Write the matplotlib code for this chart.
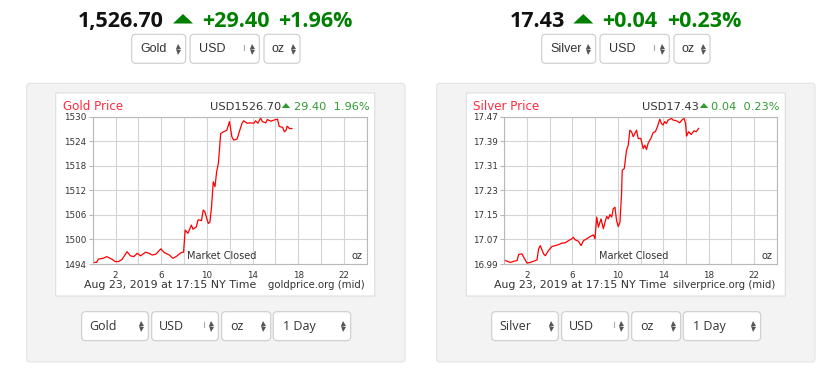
import numpy as np
import matplotlib
matplotlib.use("Agg")
import matplotlib.pyplot as plt
from matplotlib.patches import FancyBboxPatch, Polygon, Rectangle

# ---- data ----
gold_hours = [0.0, 0.34, 0.49, 0.93, 1.23, 1.67, 1.97, 2.27, 2.56, 3.01, 3.30, 3.60, 3.90,
              4.19, 4.64, 4.93, 5.23, 5.53, 5.97, 6.27, 6.71, 7.01, 7.30, 7.75, 7.96, 8.10,
              8.34, 8.64, 8.79, 9.08, 9.23, 9.53, 9.68, 9.82, 10.12, 10.27, 10.41, 10.56,
              10.71, 10.86, 11.01, 11.21, 11.45, 11.75, 11.98, 12.19, 12.34, 12.64, 12.93,
              13.08, 13.23, 13.53, 13.82, 14.12, 14.27, 14.47, 14.71, 14.86, 15.16, 15.30,
              15.60, 15.90, 16.19, 16.34, 16.64, 16.79, 16.94, 17.03, 17.24, 17.45]
gold_price = [1494.4, 1494.4, 1495.2, 1495.4, 1495.8, 1495.2, 1494.6, 1494.6, 1495.1, 1497.0,
              1496.0, 1495.8, 1496.6, 1496.0, 1496.9, 1496.6, 1496.2, 1496.4, 1497.7, 1496.8,
              1496.2, 1495.4, 1495.8, 1496.8, 1496.9, 1502.3, 1501.5, 1503.5, 1502.5, 1503.1,
              1504.8, 1504.6, 1507.2, 1506.8, 1503.9, 1504.3, 1508.0, 1514.1, 1512.9, 1516.6,
              1518.6, 1525.9, 1526.3, 1526.7, 1528.8, 1525.1, 1524.3, 1524.5, 1527.1, 1528.4,
              1529.0, 1528.4, 1528.5, 1528.4, 1529.0, 1528.4, 1529.7, 1528.8, 1528.5, 1529.3,
              1528.9, 1529.2, 1529.4, 1527.6, 1527.4, 1526.3, 1526.7, 1527.7, 1527.1, 1527.1]

silver_hours = [0.0, 0.25, 0.54, 0.83, 1.12, 1.27, 1.56, 1.71, 2.00, 2.29, 2.58, 2.88, 3.02,
                3.17, 3.46, 3.61, 3.90, 4.19, 4.49, 4.78, 5.07, 5.36, 5.65, 5.95, 6.09, 6.24,
                6.53, 6.77, 6.97, 7.26, 7.55, 7.85, 7.99, 8.14, 8.29, 8.52, 8.73, 8.87, 9.02,
                9.16, 9.31, 9.46, 9.60, 9.75, 9.89, 10.04, 10.19, 10.33, 10.39, 10.57, 10.77,
                10.92, 11.06, 11.21, 11.36, 11.50, 11.65, 11.80, 12.03, 12.24, 12.38, 12.53,
                12.67, 12.91, 13.11, 13.31, 13.49, 13.70, 13.84, 13.99, 14.13, 14.28, 14.43,
                14.57, 14.72, 14.87, 15.16, 15.45, 15.65, 15.83, 15.97, 16.06, 16.24, 16.47,
                16.71, 16.91, 17.12]
silver_price = [17.003, 16.999, 16.995, 16.999, 17.001, 17.021, 17.023, 17.012, 16.993, 16.995,
                16.999, 17.003, 17.039, 17.050, 17.023, 17.017, 17.034, 17.047, 17.050, 17.053,
                17.058, 17.059, 17.066, 17.072, 17.077, 17.069, 17.064, 17.050, 17.066, 17.072,
                17.079, 17.085, 17.072, 17.143, 17.110, 17.137, 17.105, 17.126, 17.145, 17.137,
                17.151, 17.143, 17.170, 17.175, 17.132, 17.112, 17.126, 17.219, 17.295, 17.301,
                17.361, 17.377, 17.426, 17.421, 17.405, 17.415, 17.426, 17.399, 17.399, 17.366,
                17.377, 17.363, 17.383, 17.399, 17.418, 17.421, 17.437, 17.462, 17.448, 17.443,
                17.454, 17.448, 17.459, 17.461, 17.465, 17.459, 17.457, 17.450, 17.459, 17.465,
                17.448, 17.407, 17.421, 17.412, 17.424, 17.421, 17.432]

gold_yticks = [1494, 1500, 1506, 1512, 1518, 1524, 1530]
silver_yticks = [16.99, 17.07, 17.15, 17.23, 17.31, 17.39, 17.47]
hour_grid = list(range(0, 25, 2))
hour_labels = ["" if h % 4 != 2 else str(h) for h in hour_grid]

W, H = 828, 369
fig = plt.figure(figsize=(W / 100, H / 100), dpi=100)
fig.patch.set_facecolor("white")

bg = fig.add_axes([0, 0, 1, 1])
bg.set_xlim(0, W)
bg.set_ylim(H, 0)
bg.axis("off")


def txt(x, y, s, **kw):
    fig.text(x / W, 1 - y / H, s, **kw)


def box(x0, y0, x1, y1, fc, ec, r=4, lw=0.8):
    bg.add_patch(FancyBboxPatch((x0, y0), x1 - x0, y1 - y0,
                                boxstyle="round,pad=0,rounding_size=%g" % r,
                                fc=fc, ec=ec, lw=lw))


def arrows(x, yc):
    bg.plot([x], [yc - 2.8], marker="^", ms=3.6, color="#555555", mew=0)
    bg.plot([x], [yc + 2.8], marker="v", ms=3.6, color="#555555", mew=0)


def dropdown(x0, x1, y0, y1, label, tx, ax_, bar=None, font=None, size=8.5):
    box(x0, y0, x1, y1, "white", "#cccccc", r=4)
    yc = (y0 + y1) / 2
    txt(tx, yc, label, ha="left", va="center", color="#333333", fontsize=size, family=font)
    arrows(ax_, yc)
    if bar is not None:
        bg.plot([bar, bar], [yc - 4, yc + 1], color="#aaaaaa", lw=0.8)


def header(x_val, x_tri, x_chg, x_pct, val, chg, pct):
    kw = dict(ha="left", va="baseline", fontsize=15.5, family="Open Sans", weight="bold")
    txt(x_val, 27.3, val, color="#111111", **kw)
    bg.add_patch(Polygon([[x_tri, 23.5], [x_tri + 20, 23.5], [x_tri + 10, 14]],
                         closed=True, fc="#008000", ec="none"))
    txt(x_chg, 27.3, chg, color="#008000", **kw)
    txt(x_pct, 27.3, pct, color="#008000", **kw)


def chart(px0, px1, hours, prices, yticks, fmt, title, price_txt, chg_txt, site):
    # white box round the chart
    bx0 = px0 - 37 if title.startswith("Gold") else px0 - 38
    box(bx0, 93, bx0 + 319, 296, "white", "#dddddd", r=0, lw=0.8)
    top, bot = 116.7, 264
    ax = fig.add_axes([px0 / W, 1 - bot / H, (px1 - px0) / W, (bot - top) / H])
    ax.set_zorder(2)
    ax.plot(hours, prices, color="#ff0000", lw=0.9)
    ax.set_xlim(0, 24)
    ax.set_ylim(yticks[0], yticks[-1])
    ax.set_xticks(hour_grid)
    ax.set_xticklabels(hour_labels)
    ax.set_yticks(yticks)
    ax.set_yticklabels([fmt % v for v in yticks])
    ax.grid(True, color="#d4d4d4", lw=0.8)
    for s in ax.spines.values():
        s.set_color("#b8b8b8")
        s.set_linewidth(0.8)
    ax.tick_params(axis="x", length=0, pad=5, labelsize=6.3, labelcolor="#333333")
    ax.tick_params(axis="y", length=3, pad=1.5, color="#b8b8b8", labelsize=6.3,
                   labelcolor="#333333")
    for lab in ax.get_xticklabels() + ax.get_yticklabels():
        lab.set_family("DejaVu Sans")
    # texts inside the chart box
    txt(bx0 + 7, 110, title, ha="left", va="baseline", color="#ff2a3f",
        fontsize=8.6, family="DejaVu Sans")
    txt(px1 + 2.5, 110, chg_txt, ha="right", va="baseline", color="#2f9c2f",
        fontsize=8.2, family="DejaVu Sans")
    tri_r = px1 + 2.5 - 79 if title.startswith("Gold") else px1 + 2.5 - 71
    bg.add_patch(Polygon([[tri_r - 8.5, 108], [tri_r, 108], [tri_r - 4.25, 103]],
                         closed=True, fc="#2f9c2f", ec="none"))
    txt(tri_r - 9, 110, price_txt, ha="right", va="baseline", color="#333333",
        fontsize=8.2, family="DejaVu Sans")
    txt(px0 + 94.5, 256, "Market Closed", ha="left", va="center", color="#333333",
        fontsize=7, family="DejaVu Sans")
    txt(px1 - 10, 256, "oz", ha="center", va="center", color="#333333",
        fontsize=7, family="DejaVu Sans")
    txt(bx0 + 28, 285, "Aug 23, 2019 at 17:15 NY Time", ha="left", va="center",
        color="#333333", fontsize=7.9, family="DejaVu Sans")
    txt(px1 - 1.5, 285, site, ha="right", va="center", color="#333333",
        fontsize=7.3, family="DejaVu Sans")
    return ax


# gray panels
box(26.7, 83.3, 405, 362, "#f3f3f3", "#e3e3e3", r=3)
box(436.7, 83.3, 815, 362, "#f3f3f3", "#e3e3e3", r=3)

# headers
header(78, 173, 201.7, 278, "1,526.70", "+29.40", "+1.96%")
header(510, 573.3, 601.7, 666.7, "17.43", "+0.04", "+0.23%")

# top dropdowns
for name, off in (("Gold", 0), ("Silver", 410)):
    dropdown(131.7 + off, 185.7 + off, 34.3, 63.3, name, 140 + off, 178.3 + off,
             font="Liberation Sans", size=9)
    dropdown(190 + off, 259.3 + off, 34.3, 63.3, "USD", 199.3 + off, 252.3 + off,
             bar=244.3 + off, font="Liberation Sans", size=9)
    dropdown(264 + off, 300 + off, 34.3, 63.3, "oz", 272 + off, 293.3 + off,
             font="Liberation Sans", size=9)

# bottom dropdowns
for name, off in (("Gold", 0), ("Silver", 410)):
    dropdown(81.7 + off, 148.3 + off, 311.7, 340.7, name, 89.3 + off, 140.7 + off,
             font="Open Sans", size=9)
    dropdown(151.7 + off, 218.3 + off, 311.7, 340.7, "USD", 159.3 + off, 211 + off,
             bar=204 + off, font="Open Sans", size=9)
    dropdown(221.7 + off, 270.7 + off, 311.7, 340.7, "oz", 230 + off, 263.3 + off,
             font="Open Sans", size=9)
    dropdown(273.3 + off, 350.7 + off, 311.7, 340.7, "1 Day", 282.7 + off, 343.3 + off,
             font="Open Sans", size=9)

chart(92.7, 366.7, gold_hours, gold_price, gold_yticks, "%d", "Gold Price",
      "USD1526.70", "29.40  1.96%", "goldprice.org (mid)")
chart(504.3, 776.7, silver_hours, silver_price, silver_yticks, "%.2f", "Silver Price",
      "USD17.43", "0.04  0.23%", "silverprice.org (mid)")

fig.savefig("out.png", dpi=100)
